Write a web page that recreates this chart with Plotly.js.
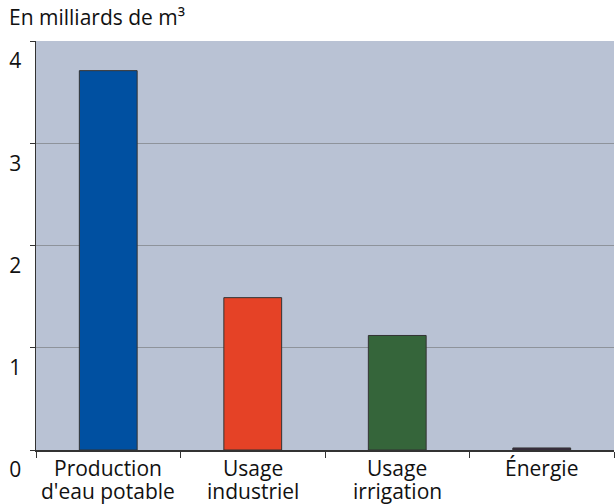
<!DOCTYPE html>
<html><head><meta charset="utf-8">
<script src="https://cdn.plot.ly/plotly-3.0.1.min.js"></script>
<style>html,body{margin:0;padding:0;background:#fff}</style>
</head><body><div id="chart" style="width:615px;height:504px"></div>
<script>
const categories = ["Production d'eau potable", "Usage industriel", "Usage irrigation", "Énergie"];
const labelLine1 = ["Production", "Usage", "Usage", "Énergie"];
const labelLine2 = ["d'eau potable", "industriel", "irrigation", ""];
const values = [3.71, 1.49, 1.12, 0.02];
const barColors = ["#0050a1", "#e54226", "#35653a", "#3b2a42"];
const yTickVals = [0, 1, 2, 3, 4];
const yTickText = ["0", "1", "2", "3", "4"];
const titleText = "En milliards de m³";

const font = "Open Sans, Noto Sans, sans-serif";
const annotations = [];
categories.forEach((c, i) => {
  annotations.push({x: c, xref: "x", y: 0, yref: "paper", yanchor: "middle", xanchor: "center",
    yshift: -18, text: labelLine1[i], showarrow: false, font: {family: font, size: 21, color: "#111"}});
  if (labelLine2[i]) annotations.push({x: c, xref: "x", y: 0, yref: "paper", yanchor: "middle", xanchor: "center",
    yshift: -41, text: labelLine2[i], showarrow: false, font: {family: font, size: 21, color: "#111"}});
});

Plotly.newPlot("chart", [{
  type: "bar",
  x: categories,
  y: values,
  width: 0.4,
  marker: {color: barColors, line: {color: "#333333", width: 1}},
  hoverinfo: "none"
}], {
  width: 615, height: 504,
  margin: {l: 36, r: 1, t: 41, b: 54, pad: 0},
  paper_bgcolor: "#ffffff",
  plot_bgcolor: "#b9c2d4",
  showlegend: false,
  title: {text: titleText, font: {family: font, size: 21, color: "#111"},
          xref: "container", yref: "container", x: 9/615, xanchor: "left", y: 1 - 18/504, yanchor: "middle"},
  annotations: annotations,
  xaxis: {
    type: "category", range: [-0.5, 3.5],
    showline: true, linecolor: "#333", linewidth: 1.5,
    ticks: "outside", tickson: "boundaries", ticklen: 6, tickcolor: "#333", tickwidth: 1,
    showgrid: false, showticklabels: false
  },
  yaxis: {
    range: [0, 4], tickvals: yTickVals, ticktext: yTickText,
    showline: true, linecolor: "#333", linewidth: 1.5,
    ticks: "outside", ticklen: 5, tickcolor: "#333", tickwidth: 1,
    showgrid: true, gridcolor: "#8e939b", gridwidth: 1, zeroline: false,
    ticklabelshift: 20, ticklabelstandoff: 4,
    tickfont: {family: font, size: 21, color: "#111"}
  }
}, {staticPlot: true});
</script></body></html>
